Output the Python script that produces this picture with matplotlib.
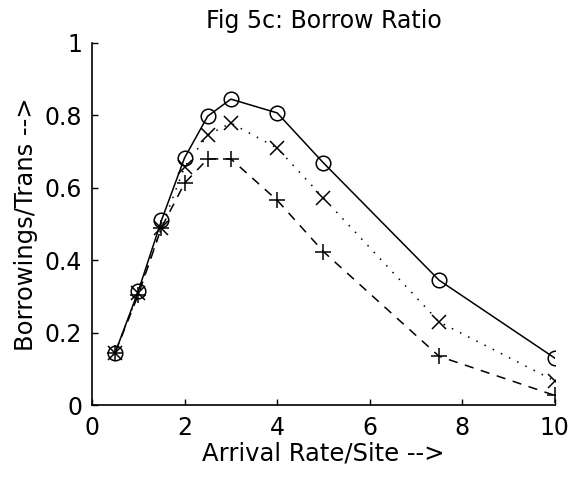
import matplotlib
matplotlib.use("Agg")
import matplotlib.pyplot as plt

# Data
rate = [0.5, 1, 1.5, 2, 2.5, 3, 4, 5, 7.5, 10]
ratio_o = [0.145, 0.315, 0.51, 0.683, 0.798, 0.845, 0.807, 0.669, 0.345, 0.13]
ratio_x = [0.145, 0.31, 0.49, 0.658, 0.746, 0.779, 0.71, 0.572, 0.23, 0.067]
ratio_p = [0.145, 0.305, 0.49, 0.613, 0.68, 0.68, 0.566, 0.424, 0.135, 0.027]

plt.rcParams["font.family"] = ["DejaVu Sans"]

fig = plt.figure(figsize=(5.75, 4.83), dpi=100)
ax = fig.add_axes([0.160, 0.161, 0.805, 0.750])

ax.plot(rate, ratio_o, color="black", lw=1.1, marker="o", ms=10.5,
        mfc="none", mew=1.1)
ax.plot(rate, ratio_x, color="black", lw=1.1, marker="x", ms=10,
        mew=1.1, linestyle=(0, (1, 5)))
ax.plot(rate, ratio_p, color="black", lw=1.1, marker="+", ms=11,
        mew=1.1, linestyle=(0, (6, 5)))

ax.set_xlim(0, 10)
ax.set_ylim(0, 1)
ax.set_xticks([0, 2, 4, 6, 8, 10])
ax.set_yticks([0, 0.2, 0.4, 0.6, 0.8, 1])
ax.set_yticklabels(["0", "0.2", "0.4", "0.6", "0.8", "1"])
ax.tick_params(direction="in", length=4, labelsize=17, width=1)
ax.tick_params(axis="x", pad=8)
ax.tick_params(axis="y", pad=7)
for s in ["top", "right"]:
    ax.spines[s].set_visible(False)
for s in ["left", "bottom"]:
    ax.spines[s].set_linewidth(1.2)

ax.set_xlabel("Arrival Rate/Site -->", fontsize=17.5, labelpad=1)
ax.set_ylabel("Borrowings/Trans -->", fontsize=17.5, labelpad=5)
ax.set_title("Fig 5c: Borrow Ratio", fontsize=17, pad=11)

fig.savefig("out.png", dpi=100)
